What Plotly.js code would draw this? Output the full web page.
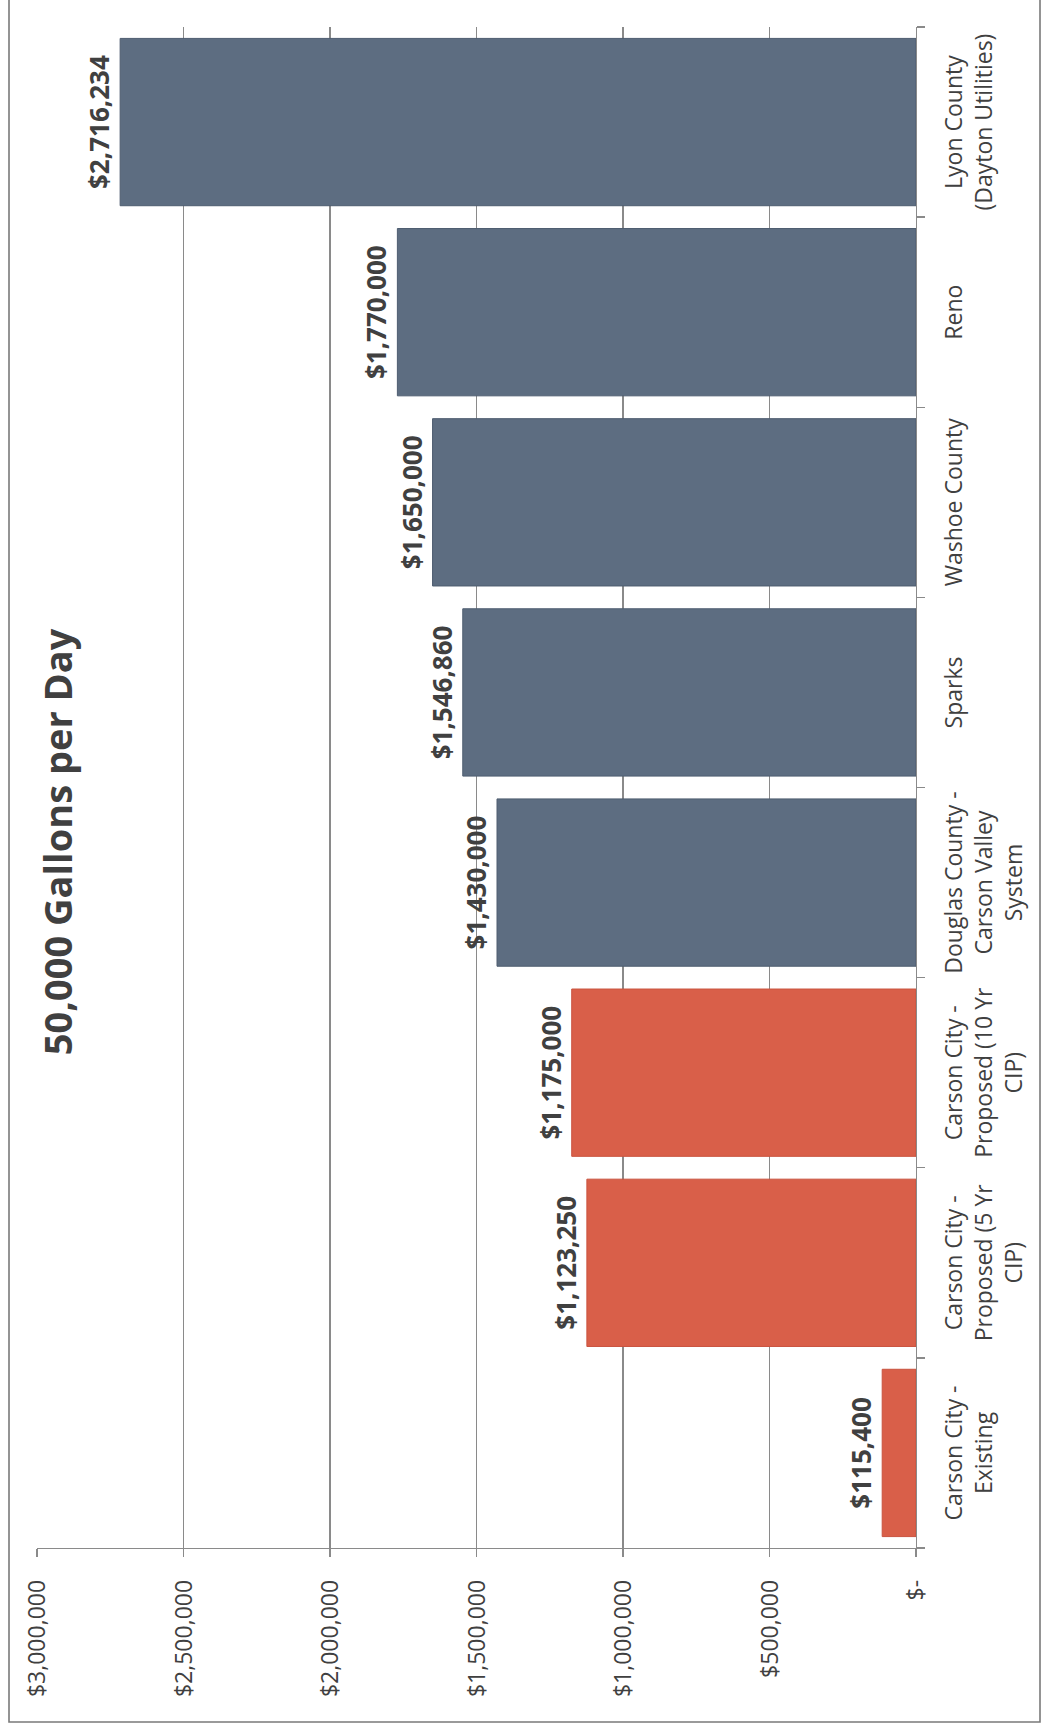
<!DOCTYPE html>
<html>
<head>
<meta charset="utf-8">
<script src="https://cdn.plot.ly/plotly-3.0.1.min.js"></script>
<style>
  html, body { margin: 0; padding: 0; background: #ffffff; overflow: hidden; }
  body { width: 1042px; height: 1724px; position: relative; }
  #chart {
    position: absolute; left: 0; top: 0;
    width: 1724px; height: 1042px;
    transform-origin: 0 0;
    transform: translateY(1724px) rotate(-90deg);
  }
</style>
</head>
<body>
<div id="chart"></div>
<script>
// ---- data ----
const categories = [
  "Carson City -<br>Existing",
  "Carson City -<br>Proposed (5 Yr<br>CIP)",
  "Carson City -<br>Proposed (10 Yr<br>CIP)",
  "Douglas County -<br>Carson Valley<br>System",
  "Sparks",
  "Washoe County",
  "Reno",
  "Lyon County<br>(Dayton Utilities)"
];
const values = [115400, 1123250, 1175000, 1430000, 1546860, 1650000, 1770000, 2716234];
const isCarsonCity = [true, true, true, false, false, false, false, false];
const tickValues = [0, 500000, 1000000, 1500000, 2000000, 2500000, 3000000];
const tickLabels = ["$-", "$500,000", "$1,000,000", "$1,500,000", "$2,000,000", "$2,500,000", "$3,000,000"];
const chartTitle = "50,000 Gallons per Day";

// ---- style ----
const RED = "#d95f49", SLATE = "#5d6d81";
const W = 1724, H = 1042;
const M = { l: 176, r: 27, t: 37, b: 126 };
const pw = W - M.l - M.r, ph = H - M.t - M.b;
const FONT = "Open Sans, Lato, sans-serif";
const TXT = "#404040";
const GRID = "#8a8a8a";

const trace = {
  type: "bar",
  x: categories,
  y: values,
  marker: {
    color: isCarsonCity.map(c => c ? RED : SLATE),
    line: { color: isCarsonCity.map(c => c ? "#c9533f" : "#4e5d70"), width: 1 }
  },
  texttemplate: "$%{y:,}",
  textposition: "outside",
  textangle: 0,
  constraintext: "none",
  cliponaxis: false,
  textfont: { family: FONT, size: 26, color: TXT, weight: 700 },
  hoverinfo: "none"
};

// chart frame (in paper units of the plot area)
const fx0 = (2 - M.l) / pw, fx1 = (W + 10 - M.l) / pw;
const fyTop = (H - M.b - 9) / ph, fyBot = (H - M.b - 1040) / ph;

const layout = {
  width: W, height: H, autosize: false,
  margin: M,
  paper_bgcolor: "#ffffff",
  plot_bgcolor: "#ffffff",
  showlegend: false,
  bargap: 0.12,
  title: {
    text: chartTitle,
    font: { family: FONT, size: 38, color: TXT, weight: 700 },
    xref: "container", yref: "container",
    x: 882 / W, y: 1 - 59 / H,
    xanchor: "center", yanchor: "middle"
  },
  xaxis: {
    type: "category",
    showline: true, linecolor: GRID, linewidth: 1.3,
    ticks: "outside", tickson: "boundaries", ticklen: 8, tickcolor: GRID, tickwidth: 1.3,
    showgrid: false,
    tickangle: 0,
    ticklabelstandoff: 17,
    tickfont: { family: FONT, size: 23, color: TXT }
  },
  yaxis: {
    range: [0, 3000000],
    tickvals: tickValues, ticktext: tickLabels,
    showline: true, linecolor: GRID, linewidth: 1.3,
    ticks: "outside", ticklen: 8, tickcolor: GRID, tickwidth: 1.3,
    showgrid: true, gridcolor: GRID, gridwidth: 1.2,
    zeroline: false,
    ticklabelstandoff: 18,
    tickfont: { family: FONT, size: 23, color: TXT }
  },
  shapes: [
    { type: "rect", xref: "paper", yref: "paper",
      x0: fx0, x1: fx1, y0: fyBot, y1: fyTop,
      line: { color: "#7a7a7a", width: 1.6 }, fillcolor: "rgba(0,0,0,0)", layer: "below" }
  ]
};

Plotly.newPlot("chart", [trace], layout, { staticPlot: true, displayModeBar: false, responsive: false });
</script>
</body>
</html>
